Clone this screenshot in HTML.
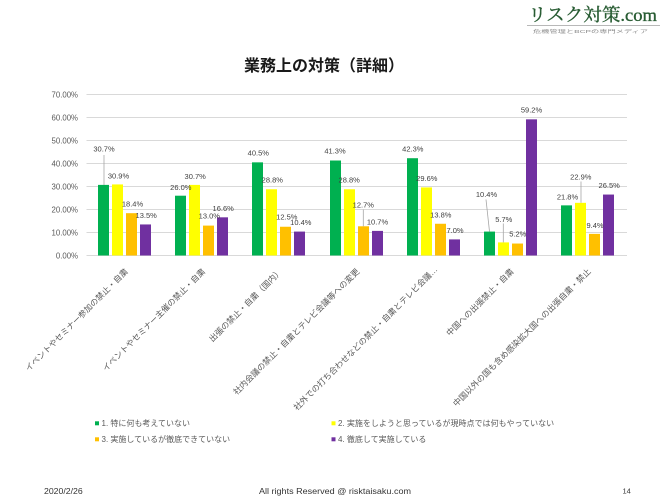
<!DOCTYPE html>
<html>
<head>
<meta charset="utf-8">
<style>
  html, body { margin:0; padding:0; background:#ffffff; }
  svg { display:block; }
  .jp { font-family: "Liberation Sans", "Noto Sans CJK JP", sans-serif; }
  .lbl { font-family: "Liberation Sans", "Noto Sans CJK JP", sans-serif; font-size:7.5px; fill:#404040; text-anchor:middle; }
  .ax { font-family: "Liberation Sans", sans-serif; font-size:7.8px; fill:#595959; text-anchor:end; }
  .cat { font-family: "Liberation Sans", "Noto Sans CJK JP", sans-serif; font-size:8.3px; fill:#595959; text-anchor:end; }
  .leg { font-family: "Liberation Sans", "Noto Sans CJK JP", sans-serif; font-size:8px; fill:#595959; }
</style>
</head>
<body>
<svg width="670" height="502" viewBox="0 0 670 502" xmlns="http://www.w3.org/2000/svg">
  <rect x="0" y="0" width="670" height="502" fill="#ffffff"/>

  <!-- Logo -->
  <text x="528" y="21" textLength="129" lengthAdjust="spacingAndGlyphs" style="font-family:'Liberation Serif','Noto Serif CJK SC',serif;font-size:18px;fill:#285c33;stroke:#285c33;stroke-width:0.35px;">リスク対策.com</text>
  <line x1="527" y1="25.5" x2="660" y2="25.5" stroke="#b8b8b8" stroke-width="1"/>
  <text x="533" y="33" textLength="115" lengthAdjust="spacingAndGlyphs" style="font-family:'Liberation Sans','Noto Sans CJK JP',sans-serif;font-size:4.5px;fill:#8a8a8a;">危機管理とBCPの専門メディア</text>

  <!-- Title -->
  <text x="324" y="71" text-anchor="middle" class="jp" style="font-size:16px;font-weight:bold;fill:#1a1a1a;">業務上の対策（詳細）</text>

  <!-- Gridlines -->
  <g stroke="#d9d9d9" stroke-width="1">
    <line x1="86.5" y1="94.5" x2="627" y2="94.5"/>
    <line x1="86.5" y1="117.5" x2="627" y2="117.5"/>
    <line x1="86.5" y1="140.5" x2="627" y2="140.5"/>
    <line x1="86.5" y1="163.5" x2="627" y2="163.5"/>
    <line x1="86.5" y1="186.5" x2="627" y2="186.5"/>
    <line x1="86.5" y1="209.5" x2="627" y2="209.5"/>
    <line x1="86.5" y1="232.5" x2="627" y2="232.5"/>
    <line x1="86.5" y1="255.5" x2="627" y2="255.5"/>
  </g>

  <!-- Y axis labels -->
  <g class="ax">
    <text x="78" y="97.3">70.00%</text>
    <text x="78" y="120.3">60.00%</text>
    <text x="78" y="143.3">50.00%</text>
    <text x="78" y="166.3">40.00%</text>
    <text x="78" y="189.3">30.00%</text>
    <text x="78" y="212.3">20.00%</text>
    <text x="78" y="235.3">10.00%</text>
    <text x="78" y="258.3">0.00%</text>
  </g>

  <!-- Bars -->
  <g>
    <!-- G1 -->
    <rect x="98" y="184.89" width="11" height="70.61" fill="#00b050"/>
    <rect x="112" y="184.43" width="11" height="71.07" fill="#ffff00"/>
    <rect x="126" y="213.18" width="11" height="42.32" fill="#ffc000"/>
    <rect x="140" y="224.45" width="11" height="31.05" fill="#7030a0"/>
    <!-- G2 -->
    <rect x="175" y="195.7" width="11" height="59.8" fill="#00b050"/>
    <rect x="189" y="184.89" width="11" height="70.61" fill="#ffff00"/>
    <rect x="203" y="225.6" width="11" height="29.9" fill="#ffc000"/>
    <rect x="217" y="217.32" width="11" height="38.18" fill="#7030a0"/>
    <!-- G3 -->
    <rect x="252" y="162.35" width="11" height="93.15" fill="#00b050"/>
    <rect x="266" y="189.26" width="11" height="66.24" fill="#ffff00"/>
    <rect x="280" y="226.75" width="11" height="28.75" fill="#ffc000"/>
    <rect x="294" y="231.58" width="11" height="23.92" fill="#7030a0"/>
    <!-- G4 -->
    <rect x="330" y="160.51" width="11" height="94.99" fill="#00b050"/>
    <rect x="344" y="189.26" width="11" height="66.24" fill="#ffff00"/>
    <rect x="358" y="226.29" width="11" height="29.21" fill="#ffc000"/>
    <rect x="372" y="230.89" width="11" height="24.61" fill="#7030a0"/>
    <!-- G5 -->
    <rect x="407" y="158.21" width="11" height="97.29" fill="#00b050"/>
    <rect x="421" y="187.42" width="11" height="68.08" fill="#ffff00"/>
    <rect x="435" y="223.76" width="11" height="31.74" fill="#ffc000"/>
    <rect x="449" y="239.4" width="11" height="16.1" fill="#7030a0"/>
    <!-- G6 -->
    <rect x="484" y="231.58" width="11" height="23.92" fill="#00b050"/>
    <rect x="498" y="242.39" width="11" height="13.11" fill="#ffff00"/>
    <rect x="512" y="243.54" width="11" height="11.96" fill="#ffc000"/>
    <rect x="526" y="119.34" width="11" height="136.16" fill="#7030a0"/>
    <!-- G7 -->
    <rect x="561" y="205.36" width="11" height="50.14" fill="#00b050"/>
    <rect x="575" y="202.83" width="11" height="52.67" fill="#ffff00"/>
    <rect x="589" y="233.88" width="11" height="21.62" fill="#ffc000"/>
    <rect x="603" y="194.55" width="11" height="60.95" fill="#7030a0"/>
  </g>

  <!-- Leader lines -->
  <g stroke="#a6a6a6" stroke-width="0.8" fill="none">
    <line x1="104" y1="155" x2="104" y2="185"/>
    <line x1="363.3" y1="209.5" x2="363.3" y2="226.3"/>
    <line x1="486" y1="199.5" x2="489.5" y2="231.6"/>
    <line x1="503.3" y1="223.5" x2="503.3" y2="242.4"/>
    <line x1="581" y1="181.5" x2="581" y2="202.8"/>
  </g>

  <!-- Data labels -->
  <g class="lbl">
    <text x="104" y="151.7">30.7%</text>
    <text x="118.5" y="178.4">30.9%</text>
    <text x="132.5" y="206.7">18.4%</text>
    <text x="146.2" y="218">13.5%</text>

    <text x="180.8" y="190">26.0%</text>
    <text x="195.2" y="179">30.7%</text>
    <text x="209.3" y="218.7">13.0%</text>
    <text x="223.2" y="211">16.6%</text>

    <text x="258.3" y="155.4">40.5%</text>
    <text x="272.3" y="182.4">28.8%</text>
    <text x="286.8" y="219.7">12.5%</text>
    <text x="300.8" y="225">10.4%</text>

    <text x="335" y="153.7">41.3%</text>
    <text x="349.2" y="182.4">28.8%</text>
    <text x="363.3" y="207.4">12.7%</text>
    <text x="377.5" y="224.4">10.7%</text>

    <text x="412.8" y="151.7">42.3%</text>
    <text x="426.8" y="181">29.6%</text>
    <text x="440.8" y="217.4">13.8%</text>
    <text x="455" y="233">7.0%</text>

    <text x="486.5" y="197">10.4%</text>
    <text x="503.8" y="222">5.7%</text>
    <text x="517.8" y="236.7">5.2%</text>
    <text x="531.5" y="112.7">59.2%</text>

    <text x="567.5" y="199.4">21.8%</text>
    <text x="580.8" y="179.7">22.9%</text>
    <text x="595" y="228">9.4%</text>
    <text x="609.2" y="188">26.5%</text>
  </g>

  <!-- Category labels -->
  <g class="cat">
    <text x="128.5" y="272" transform="rotate(-45 128.5 272)">イベントやセミナー参加の禁止・自粛</text>
    <text x="205.7" y="272" transform="rotate(-45 205.7 272)">イベントやセミナー主催の禁止・自粛</text>
    <text x="282.9" y="272" transform="rotate(-45 282.9 272)">出張の禁止・自粛（国内）</text>
    <text x="360" y="272" transform="rotate(-45 360 272)">社内会議の禁止・自粛とテレビ会議等への変更</text>
    <text x="438" y="270" transform="rotate(-45 438 270)">社外での打ち合わせなどの禁止・自粛とテレビ会議…</text>
    <text x="514.3" y="272" transform="rotate(-45 514.3 272)">中国への出張禁止・自粛</text>
    <text x="591.4" y="272" transform="rotate(-45 591.4 272)">中国以外の国も含め感染拡大国への出張自粛・禁止</text>
  </g>

  <!-- Legend -->
  <g>
    <rect x="95" y="421.3" width="4" height="4" fill="#00b050"/>
    <text x="101.5" y="426.2" class="leg">1. 特に何も考えていない</text>
    <rect x="95" y="437.3" width="4" height="4" fill="#ffc000"/>
    <text x="101.5" y="442.2" class="leg">3. 実施しているが徹底できていない</text>
    <rect x="331.5" y="421.3" width="4" height="4" fill="#ffff00"/>
    <text x="338" y="426.2" class="leg">2. 実施をしようと思っているが現時点では何もやっていない</text>
    <rect x="331.5" y="437.3" width="4" height="4" fill="#7030a0"/>
    <text x="338" y="442.2" class="leg">4. 徹底して実施している</text>
  </g>

  <!-- Footer -->
  <text x="44" y="493.8" style="font-family:'Liberation Sans',sans-serif;font-size:8.7px;fill:#333333;">2020/2/26</text>
  <text x="259" y="493.8" textLength="152" lengthAdjust="spacingAndGlyphs" style="font-family:'Liberation Sans',sans-serif;font-size:8.7px;fill:#333333;">All rights Reserved @ risktaisaku.com</text>
  <text x="622.5" y="493.5" style="font-family:'Liberation Sans',sans-serif;font-size:7.5px;fill:#333333;">14</text>
</svg>
</body>
</html>
